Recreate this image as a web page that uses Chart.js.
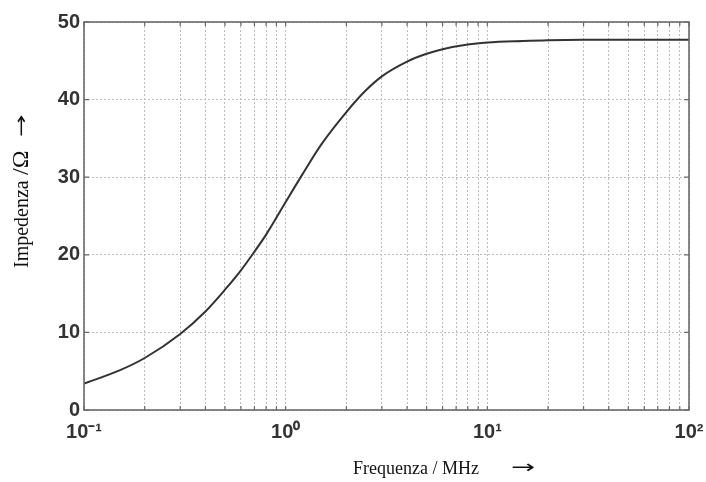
<!DOCTYPE html>
<html>
<head>
<meta charset="utf-8">
<script src="https://cdn.jsdelivr.net/npm/chart.js@4.4.1/dist/chart.umd.min.js"></script>
<style>
  html, body { margin: 0; padding: 0; background: #fff; }
  #wrap { width: 706px; height: 482px; position: relative; }
</style>
</head>
<body>
<div id="wrap"><canvas id="chart"></canvas></div>
<script>
// Frequenza (MHz) e impedenza (Ohm)
const freqMHz = [0.1, 0.15, 0.2, 0.3, 0.4, 0.5, 0.6, 0.7, 0.8, 1.0, 1.2, 1.5, 2, 2.5, 3, 4, 5, 6, 8, 10, 15, 20, 30, 50, 100];
const impedanceOhm = [3.4, 5.1, 6.7, 9.8, 12.7, 15.5, 18.0, 20.4, 22.6, 26.8, 30.2, 34.2, 38.4, 41.2, 43.0, 44.9, 45.9, 46.5, 47.1, 47.35, 47.55, 47.65, 47.7, 47.7, 47.7];

// Decadi dell'asse x e relative etichette
const decades = [0.1, 1, 10, 100];
const decadeLabels = ['10\u207B\u00B9', '10\u2070', '10\u00B9', '10\u00B2'];
const minorSteps = [1, 2, 3, 4, 5, 6, 7, 8, 9];

// Tacche dell'asse y
const yTicks = [0, 10, 20, 30, 40, 50];

const xTickValues = [];
decades.forEach((d, i) => {
  if (i === decades.length - 1) { xTickValues.push(d); return; }
  minorSteps.forEach(m => xTickValues.push(+(d * m).toPrecision(3)));
});

// Cornice, tacche interne e titoli degli assi
const framePlugin = {
  id: 'frame',
  afterDraw(chart) {
    const { ctx, chartArea: a, scales } = chart;
    ctx.save();
    ctx.strokeStyle = '#6a6a6a';
    ctx.lineWidth = 1.2;
    ctx.beginPath();
    xTickValues.forEach(v => {
      const px = scales.x.getPixelForValue(v);
      ctx.moveTo(px, a.bottom); ctx.lineTo(px, a.bottom - 4);
      ctx.moveTo(px, a.top); ctx.lineTo(px, a.top + 4);
    });
    yTicks.forEach(v => {
      const py = scales.y.getPixelForValue(v);
      ctx.moveTo(a.left, py); ctx.lineTo(a.left + 5, py);
      ctx.moveTo(a.right, py); ctx.lineTo(a.right - 5, py);
    });
    ctx.stroke();
    ctx.lineWidth = 1.6;
    ctx.strokeRect(a.left, a.top, a.right - a.left, a.bottom - a.top);

    // titolo asse x
    ctx.fillStyle = '#111';
    ctx.textBaseline = 'alphabetic';
    ctx.textAlign = 'left';
    ctx.font = '18px "Liberation Serif", serif';
    ctx.fillText('Frequenza / MHz', 353, 474);
    ctx.save();
    ctx.translate(511, 473);
    ctx.scale(1.6, 1);
    ctx.font = '18px "DejaVu Sans", sans-serif';
    ctx.fillText('\u2192', 0, 0);
    ctx.restore();

    // titolo asse y (ruotato)
    ctx.translate(28, 268);
    ctx.rotate(-Math.PI / 2);
    ctx.font = '20px "Liberation Serif", serif';
    ctx.fillText('Impedenza', 0, 0);
    ctx.font = '24px "Liberation Serif", serif';
    ctx.fillText('/\u03A9', 93, 0);
    ctx.translate(131, -1);
    ctx.scale(1.5, 1);
    ctx.font = '18px "DejaVu Sans", sans-serif';
    ctx.fillText('\u2192', 0, 0);
    ctx.restore();
  }
};

new Chart(document.getElementById('chart'), {
  type: 'line',
  data: {
    datasets: [{
      data: freqMHz.map((f, i) => ({ x: f, y: impedanceOhm[i] })),
      borderColor: '#333',
      borderWidth: 2,
      pointRadius: 0,
      cubicInterpolationMode: 'monotone',
      fill: false
    }]
  },
  options: {
    responsive: true,
    maintainAspectRatio: false,
    animation: false,
    devicePixelRatio: 1,
    layout: { padding: { top: 22, right: 17, left: 0, bottom: 0 } },
    plugins: { legend: { display: false }, tooltip: { enabled: false } },
    scales: {
      x: {
        type: 'logarithmic',
        min: 0.1,
        max: 100,
        afterBuildTicks(scale) {
          scale.ticks = xTickValues.map(v => ({ value: v }));
        },
        afterFit(scale) {
          scale.height = 72;
          scale.paddingLeft = 0;
          scale.paddingRight = 0;
        },
        ticks: {
          autoSkip: false,
          maxRotation: 0,
          padding: 10,
          color: '#333',
          font: { family: '"Liberation Sans", Arial, sans-serif', size: 20, weight: 'bold' },
          callback(value) {
            const i = decades.findIndex(d => Math.abs(d - value) < 1e-9);
            return i >= 0 ? decadeLabels[i] : '';
          }
        },
        grid: { color: '#bdbdbd', lineWidth: 1, drawTicks: false },
        border: { display: false, dash: [2, 2] }
      },
      y: {
        min: 0,
        max: 50,
        afterBuildTicks(scale) {
          scale.ticks = yTicks.map(v => ({ value: v }));
        },
        afterFit(scale) {
          scale.width = 84;
          scale.paddingTop = 0;
          scale.paddingBottom = 0;
        },
        ticks: {
          padding: 4,
          color: '#333',
          font: { family: '"Liberation Sans", Arial, sans-serif', size: 20, weight: 'bold' }
        },
        grid: { color: '#bdbdbd', lineWidth: 1, drawTicks: false },
        border: { display: false, dash: [2, 2] }
      }
    }
  },
  plugins: [framePlugin]
});
</script>
</body>
</html>
